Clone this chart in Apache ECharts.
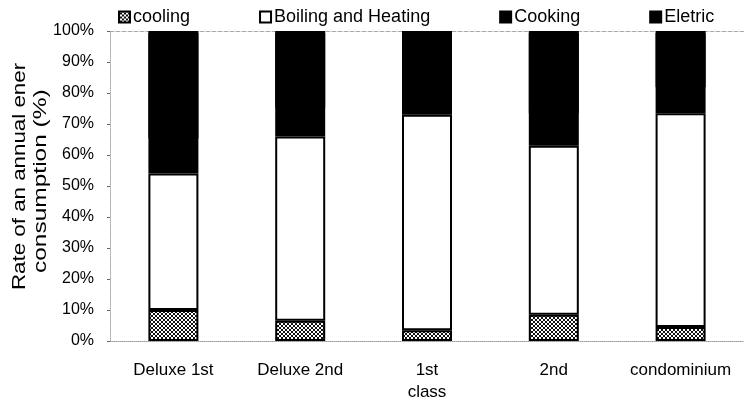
<!DOCTYPE html>
<html><head><meta charset="utf-8">
<script src="https://cdn.jsdelivr.net/npm/echarts@6/dist/echarts.min.js"></script>
<style>html,body{margin:0;padding:0;background:#fff}#c{width:744px;height:403px}</style>
</head><body><div id="c"></div>
<script>
var categories = ['Deluxe 1st', 'Deluxe 2nd', '1st\nclass', '2nd', 'condominium'];
var cooling = [10, 6.5, 3.5, 8.5, 4.5];
var boiling = [44, 59.5, 69.5, 54.5, 69];
var cooking = [12, 10, 8, 11, 9];
var eletric = [34, 24, 19, 26, 17.5];
var yTicks = [0, 10, 20, 30, 40, 50, 60, 70, 80, 90, 100];

var pc = document.createElement('canvas');
pc.width = 4; pc.height = 4;
var g = pc.getContext('2d');
g.fillStyle = '#fff'; g.fillRect(0, 0, 4, 4);
g.fillStyle = '#111';
for (var i = 0; i < 4; i++) { g.fillRect(i, i, 1, 1); g.fillRect(3 - i, i, 1, 1); }
var hatch = { image: pc, repeat: 'repeat' };

var font = 'Liberation Sans, Arial, sans-serif';
var chart = echarts.init(document.getElementById('c'), null, { renderer: 'canvas' });
function ser(name, data, color, bw, extra) {
  var st = { color: color, borderColor: '#000', borderWidth: bw };
  if (extra) { for (var k in extra) st[k] = extra[k]; }
  return {
    name: name, type: 'bar', stack: 'all', data: data, barWidth: 50,
    itemStyle: st,
    emphasis: { disabled: true }
  };
}
chart.setOption({
  animation: false,
  textStyle: { fontFamily: font },
  legend: {
    left: 113, top: 3, itemWidth: 11, itemHeight: 11, itemGap: 69,
    icon: 'rect',
    textStyle: { fontSize: 18, color: '#000', fontFamily: font, padding: [0, 0, 0, -2] },
    data: ['cooling', 'Boiling and Heating', 'Cooking', 'Eletric']
  },
  grid: { left: 110, top: 31, width: 640, bottom: 60 },
  xAxis: [{
    type: 'category', data: categories, position: 'bottom',
    axisLine: { show: true, lineStyle: { color: '#999', type: 'dotted', width: 1 } },
    axisTick: { show: false },
    axisLabel: { interval: 0, color: '#000', fontSize: 17, margin: 18, lineHeight: 22, fontFamily: font }
  }, {
    type: 'category', data: categories, position: 'top',
    axisLine: { show: true, lineStyle: { color: '#aaa', type: 'dashed', width: 1 } },
    axisTick: { show: false }, axisLabel: { show: false }
  }],
  yAxis: {
    type: 'value', min: 0, max: 100, interval: 10,
    axisLine: { show: true, lineStyle: { color: '#aaa', type: 'dotted', width: 1 } },
    axisTick: { show: true, length: 3, inside: false, lineStyle: { color: '#666' } },
    splitLine: { show: false },
    axisLabel: {
      color: '#000', fontSize: 16, margin: 16, fontFamily: font,
      formatter: function (v) { return yTicks.indexOf(v) >= 0 ? v + '%' : ''; }
    }
  },
  graphic: [
    { type: 'text', x: 20, y: 290, rotation: Math.PI / 2, scaleX: 1.24,
      style: { text: 'Rate of an annual ener', font: '18px ' + font, fill: '#000', textAlign: 'left', textVerticalAlign: 'middle' } },
    { type: 'text', x: 41, y: 273, rotation: Math.PI / 2, scaleX: 1.36,
      style: { text: 'consumption (%)', font: '18px ' + font, fill: '#000', textAlign: 'left', textVerticalAlign: 'middle' } }
  ],
  series: [
    ser('cooling', cooling, hatch, 2),
    ser('Boiling and Heating', boiling, '#fff', 2),
    ser('Cooking', cooking, '#000', 2),
    ser('Eletric', eletric, '#000', 2, { shadowColor: '#000', shadowBlur: 0, shadowOffsetY: 2 })
  ]
});
</script></body></html>
